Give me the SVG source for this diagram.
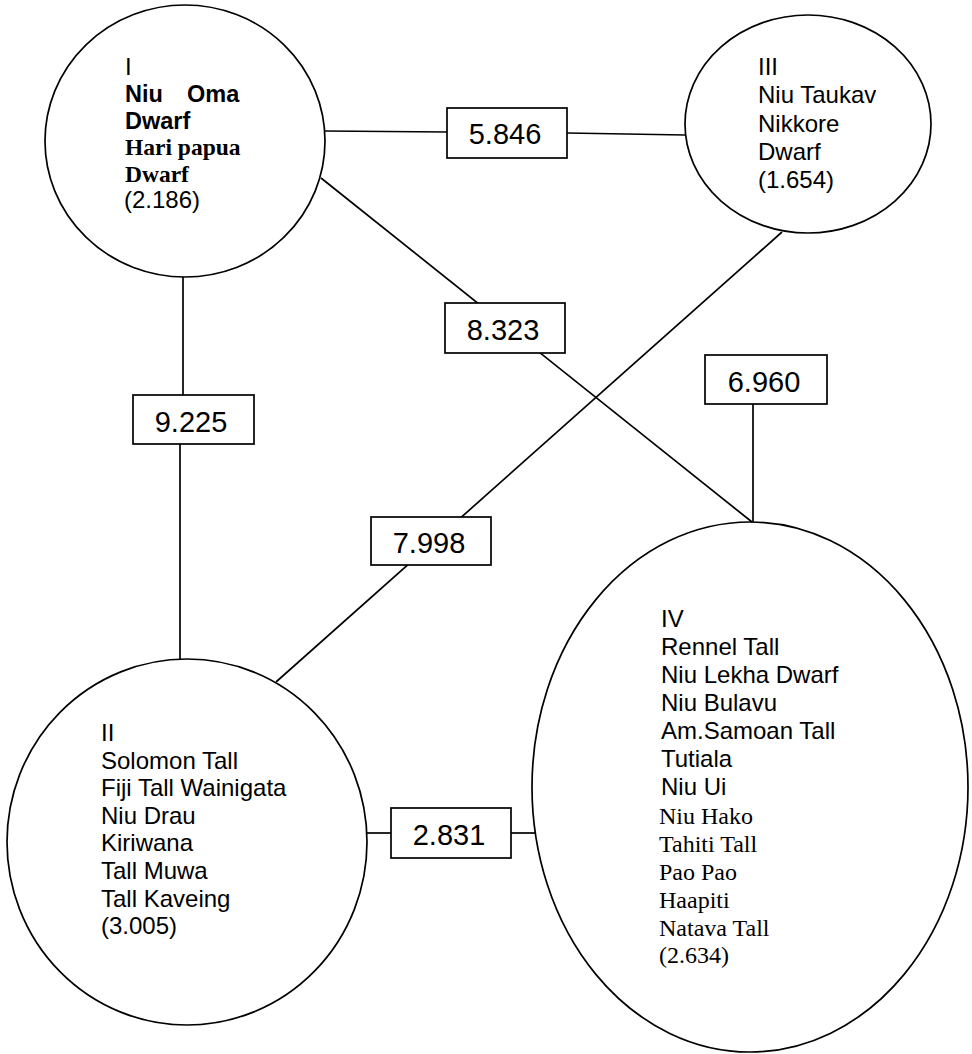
<svg xmlns="http://www.w3.org/2000/svg" width="972" height="1054" viewBox="0 0 972 1054">
<style>
.n{fill:none;stroke:#000;stroke-width:1.7}
.c{stroke:#000;stroke-width:1.7;fill:none}
.b{fill:#fff;stroke:#000;stroke-width:1.7}
.t{font-family:"Liberation Sans",Arial,sans-serif;font-size:24px;fill:#000}
.tb{font-family:"Liberation Sans",Arial,sans-serif;font-size:23.5px;font-weight:bold;fill:#000}
.s{font-family:"Liberation Serif","Times New Roman",serif;font-size:24px;fill:#000}
.sb{font-family:"Liberation Serif","Times New Roman",serif;font-size:23.5px;font-weight:bold;fill:#000}
.l{font-family:"Liberation Sans",Arial,sans-serif;font-size:29px;fill:#000;text-anchor:middle}
</style>
<defs>
<clipPath id="clip3"><rect x="740" y="40" width="136" height="170"/></clipPath>
</defs>
<rect width="972" height="1054" fill="#fff"/>
<g id="connectors">
<line class="c" x1="325" y1="131" x2="447" y2="132"/>
<line class="c" x1="567" y1="133" x2="685" y2="135"/>
<line class="c" x1="321" y1="178" x2="752" y2="522"/>
<line class="c" x1="753" y1="404" x2="753" y2="522"/>
<line class="c" x1="782" y1="232" x2="276" y2="682"/>
<line class="c" x1="183" y1="277" x2="183" y2="395"/>
<line class="c" x1="180" y1="444" x2="180" y2="659"/>
<line class="c" x1="367" y1="833" x2="391" y2="833"/>
<line class="c" x1="511" y1="833" x2="535" y2="833"/>
</g>
<g id="node-I">
<ellipse class="n" cx="185" cy="141" rx="140" ry="136"/>
<text class="t" x="125" y="75">I</text>
<text class="tb" x="125" y="102">Niu<tspan x="187">Oma</tspan></text>
<text class="tb" x="125" y="128.5">Dwarf</text>
<text class="sb" x="125" y="155">Hari papua</text>
<text class="sb" x="125" y="181.5">Dwarf</text>
<text class="t" x="124" y="208">(2.186)</text>
</g>
<g id="node-III">
<ellipse class="n" cx="808" cy="124" rx="123" ry="109"/>
<g clip-path="url(#clip3)">
<text class="t" x="758" y="75">III</text>
<text class="t" x="758" y="103">Niu Taukav</text>
<text class="t" x="758" y="132">Nikkore</text>
<text class="t" x="758" y="160">Dwarf</text>
<text class="t" x="758" y="188">(1.654)</text>
</g>
</g>
<g id="node-II">
<ellipse class="n" cx="187" cy="842" rx="180" ry="183"/>
<text class="t" x="101" y="741">II</text>
<text class="t" x="101" y="768.6">Solomon Tall</text>
<text class="t" x="101" y="796.2">Fiji Tall Wainigata</text>
<text class="t" x="101" y="823.8">Niu Drau</text>
<text class="t" x="101" y="851.4">Kiriwana</text>
<text class="t" x="101" y="879">Tall Muwa</text>
<text class="t" x="101" y="906.6">Tall Kaveing</text>
<text class="t" x="101" y="934.2">(3.005)</text>
</g>
<g id="node-IV">
<ellipse class="n" cx="750" cy="787" rx="218" ry="265"/>
<text class="t" x="661" y="627">IV</text>
<text class="t" x="661" y="655">Rennel Tall</text>
<text class="t" x="661" y="683">Niu Lekha Dwarf</text>
<text class="t" x="661" y="711">Niu Bulavu</text>
<text class="t" x="661" y="739">Am.Samoan Tall</text>
<text class="t" x="661" y="767">Tutiala</text>
<text class="t" x="661" y="795">Niu Ui</text>
<text class="s" x="659" y="824">Niu Hako</text>
<text class="s" x="659" y="852">Tahiti Tall</text>
<text class="s" x="659" y="880">Pao Pao</text>
<text class="s" x="659" y="908">Haapiti</text>
<text class="s" x="659" y="936">Natava Tall</text>
<text class="s" x="659" y="963">(2.634)</text>
</g>
<g id="label-5846"><rect class="b" x="447" y="108" width="120" height="50"/><text class="l" x="505" y="144">5.846</text></g>
<g id="label-8323"><rect class="b" x="445" y="303" width="120" height="50"/><text class="l" x="503" y="340">8.323</text></g>
<g id="label-6960"><rect class="b" x="705" y="355" width="122" height="49"/><text class="l" x="764" y="392">6.960</text></g>
<g id="label-9225"><rect class="b" x="133" y="395" width="121" height="49"/><text class="l" x="191" y="432">9.225</text></g>
<g id="label-7998"><rect class="b" x="371" y="517" width="120" height="48"/><text class="l" x="429" y="553">7.998</text></g>
<g id="label-2831"><rect class="b" x="391" y="808" width="120" height="50"/><text class="l" x="449" y="845">2.831</text></g>
</svg>
